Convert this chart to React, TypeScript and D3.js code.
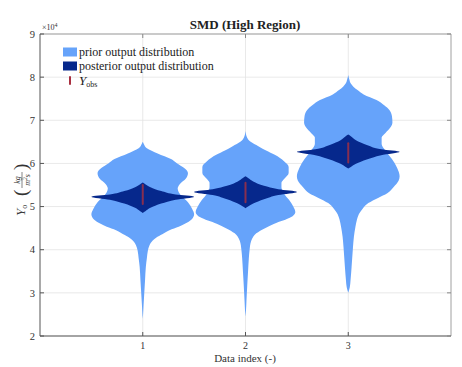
import React from "react";
import * as d3 from "d3";

// Data index positions and tick labels
const DATA_INDEX = [1, 2, 3];
const X_TICKS = [1, 2, 3];
const Y_TICKS = [2, 3, 4, 5, 6, 7, 8, 9];

// Violin profiles: [output value (×10^4), relative density 0..1]
const PRIOR_1: [number, number][] = [
  [6.5, 0], [6.45, 0.02], [6.35, 0.08], [6.23, 0.29], [6.1, 0.55], [6.0, 0.67],
  [5.9, 0.8], [5.78, 0.88], [5.65, 0.84], [5.52, 0.72], [5.42, 0.68], [5.25, 0.75],
  [5.1, 0.88], [4.95, 0.96], [4.82, 1.0], [4.7, 0.95], [4.6, 0.82], [4.53, 0.7],
  [4.45, 0.52], [4.36, 0.38], [4.28, 0.26], [4.21, 0.19], [4.1, 0.13], [3.98, 0.1],
  [3.8, 0.08], [3.6, 0.06], [3.3, 0.045], [3.1, 0.035], [2.9, 0.025], [2.7, 0.015],
  [2.5, 0.006], [2.4, 0],
];
const PRIOR_2: [number, number][] = [
  [6.75, 0], [6.6, 0.03], [6.5, 0.1], [6.4, 0.25], [6.3, 0.4], [6.2, 0.57],
  [6.05, 0.75], [5.92, 0.84], [5.78, 0.84], [5.65, 0.76], [5.55, 0.7], [5.45, 0.7],
  [5.3, 0.75], [5.15, 0.85], [5.0, 0.93], [4.87, 0.97], [4.75, 0.88], [4.6, 0.56],
  [4.5, 0.38], [4.38, 0.21], [4.3, 0.15], [4.2, 0.11], [4.0, 0.08], [3.8, 0.065],
  [3.5, 0.05], [3.15, 0.033], [2.8, 0.018], [2.6, 0.01], [2.45, 0],
];
const PRIOR_3: [number, number][] = [
  [8.05, 0], [7.95, 0.02], [7.85, 0.05], [7.78, 0.1], [7.7, 0.18], [7.6, 0.3],
  [7.47, 0.55], [7.35, 0.7], [7.24, 0.8], [7.1, 0.85], [6.95, 0.86], [6.85, 0.83],
  [6.7, 0.72], [6.6, 0.65], [6.45, 0.65], [6.3, 0.72], [6.1, 0.85], [5.9, 0.95],
  [5.7, 1.0], [5.6, 0.98], [5.45, 0.88], [5.31, 0.76], [5.2, 0.58], [5.08, 0.39],
  [4.95, 0.28], [4.85, 0.22], [4.7, 0.17], [4.53, 0.14], [4.3, 0.11], [4.06, 0.092],
  [3.6, 0.065], [3.3, 0.045], [3.13, 0.03], [3.0, 0],
];
const POSTERIOR_1: [number, number][] = [
  [5.56, 0], [5.52, 0.05], [5.45, 0.15], [5.36, 0.36], [5.28, 0.64], [5.23, 1.0],
  [5.16, 0.64], [5.07, 0.36], [4.97, 0.15], [4.89, 0.05], [4.85, 0],
];
const POSTERIOR_2: [number, number][] = [
  [5.7, 0], [5.66, 0.05], [5.58, 0.15], [5.48, 0.36], [5.4, 0.64], [5.34, 1.0],
  [5.27, 0.64], [5.17, 0.36], [5.07, 0.15], [5.0, 0.05], [4.96, 0],
];
const POSTERIOR_3: [number, number][] = [
  [6.67, 0], [6.63, 0.05], [6.54, 0.15], [6.43, 0.36], [6.33, 0.64], [6.27, 1.0],
  [6.19, 0.64], [6.09, 0.36], [5.99, 0.15], [5.92, 0.05], [5.88, 0],
];
const PRIORS = [PRIOR_1, PRIOR_2, PRIOR_3];
const POSTERIORS = [POSTERIOR_1, POSTERIOR_2, POSTERIOR_3];

// Observed output range (×10^4)
const OBS_LOW = [5.06, 5.1, 6.02];
const OBS_HIGH = [5.5, 5.55, 6.47];

const W = 462;
const H = 367;
const PRIOR_COLOR = "#66a3fa";
const POST_COLOR = "#06288c";
const OBS_COLOR = "#a93040";
const FONT = "'Liberation Serif', 'DejaVu Serif', serif";

export default function App() {
  const x = d3.scaleLinear().domain([0, 4]).range([40, 451]);
  const y = d3.scaleLinear().domain([2, 9]).range([336, 34]);
  const halfW = d3.scaleLinear().domain([0, 1]).range([0, x(0.5) - x(0)]);

  const violin = (center: number, profile: [number, number][]) =>
    d3
      .area<[number, number]>()
      .y((d) => y(d[0]))
      .x0((d) => x(center) - halfW(d[1]))
      .x1((d) => x(center) + halfW(d[1]))
      .curve(d3.curveMonotoneY)([...profile].sort((a, b) => a[0] - b[0])) || "";

  const [x0, x1] = x.range();
  const [yb, yt] = y.range();

  return (
    <svg
      width={W}
      height={H}
      style={{ position: "absolute", left: 0, top: 0, background: "#fff" }}
      fontFamily={FONT}
    >
      {/* grid */}
      {Y_TICKS.map((t) => (
        <line key={"gy" + t} x1={x0} x2={x1} y1={y(t)} y2={y(t)} stroke="#e3e3e3" strokeWidth={0.8} />
      ))}
      {X_TICKS.map((t) => (
        <line key={"gx" + t} x1={x(t)} x2={x(t)} y1={yt} y2={yb} stroke="#e3e3e3" strokeWidth={0.8} />
      ))}

      {/* violins */}
      {DATA_INDEX.map((c, i) => (
        <path key={"pr" + c} d={violin(c, PRIORS[i])} fill={PRIOR_COLOR} />
      ))}
      {DATA_INDEX.map((c, i) => (
        <path key={"po" + c} d={violin(c, POSTERIORS[i])} fill={POST_COLOR} />
      ))}
      {DATA_INDEX.map((c, i) => (
        <line
          key={"ob" + c}
          x1={x(c)}
          x2={x(c)}
          y1={y(OBS_LOW[i])}
          y2={y(OBS_HIGH[i])}
          stroke={OBS_COLOR}
          strokeWidth={2}
          strokeLinecap="round"
          opacity={0.8}
        />
      ))}

      {/* axes box */}
      <line x1={x0} x2={x1} y1={yt} y2={yt} stroke="#a0a0a0" strokeWidth={1} />
      <line x1={x1} x2={x1} y1={yt} y2={yb} stroke="#a0a0a0" strokeWidth={1} />
      <line x1={x0} x2={x1} y1={yb} y2={yb} stroke="#555" strokeWidth={1} />
      <line x1={x0} x2={x0} y1={yt} y2={yb} stroke="#555" strokeWidth={1} />

      {/* ticks */}
      {Y_TICKS.map((t) => (
        <g key={"ty" + t}>
          <line x1={x0} x2={x0 + 4} y1={y(t)} y2={y(t)} stroke="#555" />
          <line x1={x1} x2={x1 - 4} y1={y(t)} y2={y(t)} stroke="#888" />
          <text x={x0 - 5} y={y(t)} dy="0.35em" textAnchor="end" fontSize={10.5} fill="#333">
            {t}
          </text>
        </g>
      ))}
      {X_TICKS.map((t) => (
        <g key={"tx" + t}>
          <line x1={x(t)} x2={x(t)} y1={yb} y2={yb - 4} stroke="#555" />
          <line x1={x(t)} x2={x(t)} y1={yt} y2={yt + 4} stroke="#888" />
          <text x={x(t)} y={yb + 13} textAnchor="middle" fontSize={10} fill="#333">
            {t}
          </text>
        </g>
      ))}

      {/* exponent label */}
      <text x={x0 + 2} y={yt - 4} fontSize={8} fill="#333">
        ×10
        <tspan dy={-3} fontSize={6}>4</tspan>
      </text>

      {/* title */}
      <text x={245} y={29} textAnchor="middle" fontSize={13} fontWeight="bold" fill="#222">
        SMD (High Region)
      </text>

      {/* x label */}
      <text x={245} y={362} textAnchor="middle" fontSize={11} fill="#333">
        Data index (-)
      </text>

      {/* y label */}
      <g transform="translate(22,186) rotate(-90)" fill="#333">
        <text x={-30} y={3} fontSize={13} fontStyle="italic">
          Y<tspan fontSize={8} dy={2} fontStyle="normal">o</tspan>
        </text>
        <text x={-10} y={5} fontSize={19} fontWeight="lighter">(</text>
        <text x={6} y={-2} fontSize={8} textAnchor="middle" fontStyle="italic">kg</text>
        <line x1={-2} x2={14} y1={0} y2={0} stroke="#333" strokeWidth={0.6} />
        <text x={6} y={8} fontSize={8} textAnchor="middle" fontStyle="italic">
          m<tspan fontSize={5.5} dy={-3}>2</tspan>
          <tspan dy={3}>s</tspan>
        </text>
        <text x={16} y={5} fontSize={19} fontWeight="lighter">)</text>
      </g>

      {/* legend */}
      <g fontSize={12} fill="#222">
        <rect x={63} y={47.5} width={14} height={9} fill={PRIOR_COLOR} />
        <text x={79} y={52} dy="0.35em">prior output distribution</text>
        <rect x={63} y={61.5} width={14} height={9} fill={POST_COLOR} />
        <text x={79} y={66} dy="0.35em">posterior output distribution</text>
        <line x1={70} x2={70} y1={77} y2={84} stroke={OBS_COLOR} strokeWidth={2} strokeLinecap="round" />
        <text x={79} y={80} dy="0.35em" fontStyle="italic" fontSize={13}>
          Y<tspan fontSize={8} dy={2} fontStyle="normal">obs</tspan>
        </text>
      </g>
    </svg>
  );
}
